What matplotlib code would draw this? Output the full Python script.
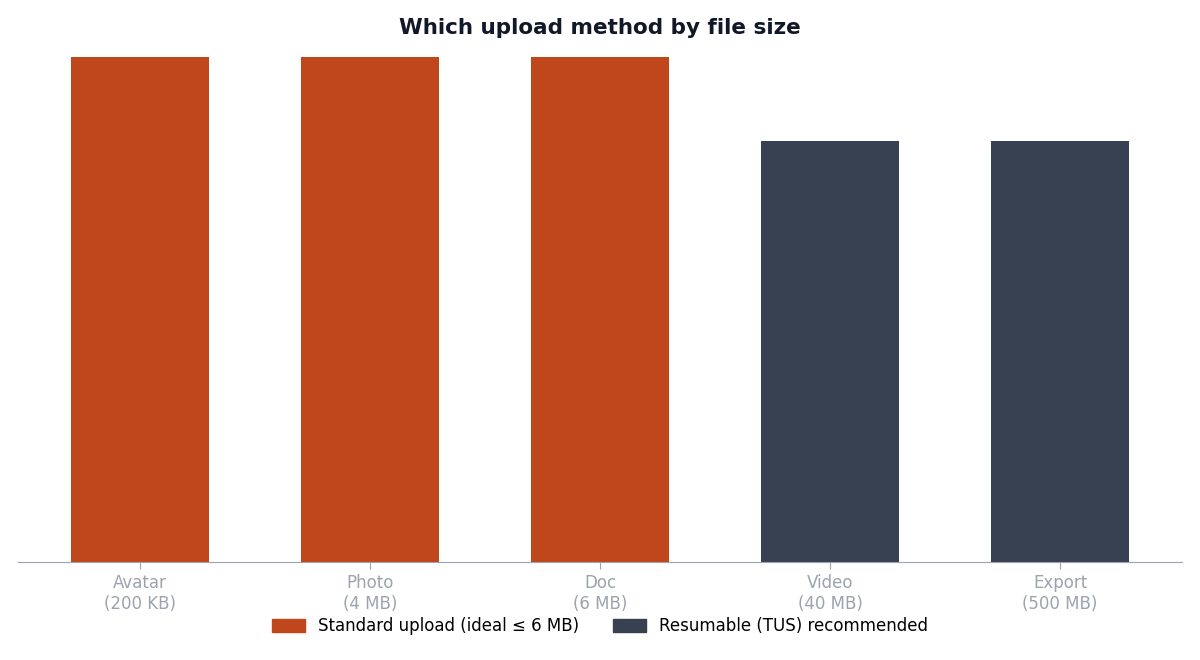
import matplotlib.pyplot as plt
from matplotlib.patches import Patch

categories = ['Avatar\n(200 KB)', 'Photo\n(4 MB)', 'Doc\n(6 MB)', 'Video\n(40 MB)', 'Export\n(500 MB)']
scores = [6, 6, 6, 5, 5]
methods = ['standard', 'standard', 'standard', 'resumable', 'resumable']
legend_labels = ['Standard upload (ideal \u2264 6 MB)', 'Resumable (TUS) recommended']

colors = {'standard': '#c0461c', 'resumable': '#374151'}

fig = plt.figure(figsize=(12, 6.6), dpi=100)
ax = fig.add_axes([0.015, 0.1485, 0.97, 0.765])

x = range(len(categories))
ax.bar(x, scores, width=0.6, color=[colors[m] for m in methods])

ax.set_xlim(-0.53, len(categories) - 0.47)
ax.set_ylim(0, max(scores))
ax.set_xticks(list(x))
ax.set_xticklabels(categories, fontsize=12, color='#9ca3af')
ax.tick_params(axis='x', colors='#9ca3af', length=5)
ax.set_yticks([])
for s in ['top', 'right', 'left']:
    ax.spines[s].set_visible(False)
ax.spines['bottom'].set_color('#9ca3af')

fig.suptitle('Which upload method by file size', fontsize=15.5, fontweight='bold',
             color='#111827', y=0.972)

handles = [Patch(color=colors['standard']), Patch(color=colors['resumable'])]
fig.legend(handles, legend_labels, loc='lower center', bbox_to_anchor=(0.5, 0.015),
           ncol=2, frameon=False, fontsize=12, handlelength=2.0, handleheight=0.8,
           columnspacing=2.0)

fig.savefig('out.png', dpi=100)
